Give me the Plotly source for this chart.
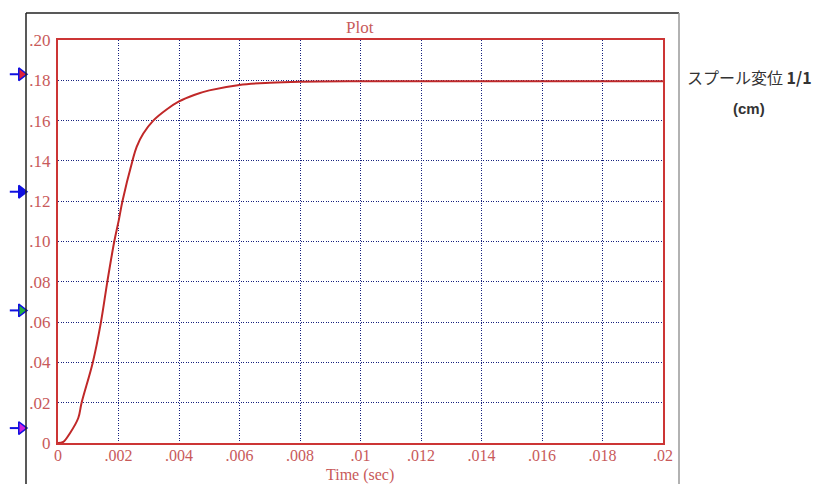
import plotly.graph_objects as go

# Data
time_s = [0, 0.000175, 0.0004, 0.00067, 0.00078, 0.00115, 0.00142, 0.00163, 0.00186,
          0.00201, 0.00213, 0.00246, 0.0026, 0.00282, 0.00315, 0.00359, 0.0040, 0.0045,
          0.0050, 0.0060, 0.0070, 0.0080, 0.010, 0.015, 0.020]
spool_cm = [0, 0.0006, 0.005, 0.0124, 0.020, 0.040, 0.060, 0.080, 0.100,
            0.1106, 0.120, 0.140, 0.147, 0.1536, 0.160, 0.1655, 0.1695, 0.1727,
            0.1750, 0.1777, 0.1788, 0.1793, 0.1795, 0.1795, 0.1795]

x_ticks = [0, 0.002, 0.004, 0.006, 0.008, 0.010, 0.012, 0.014, 0.016, 0.018, 0.020]
x_labels = ["0", ".002", ".004", ".006", ".008", ".01", ".012", ".014", ".016", ".018", ".02"]
y_ticks = [0, 0.02, 0.04, 0.06, 0.08, 0.10, 0.12, 0.14, 0.16, 0.18, 0.20]
y_labels = ["0", ".02", ".04", ".06", ".08", ".10", ".12", ".14", ".16", ".18", ".20"]

# Channel markers on the left edge
marker_levels = [0.183, 0.1247, 0.0658, 0.0074]
marker_fills = ["#e0203a", "#1010e0", "#20b040", "#d020e0"]

RED = "#cc3535"
LABEL = "#c85a5a"
GRID = "#15207f"
SERIF = "Liberation Serif, Times New Roman, serif"

PAPER_W = 663.0  # 814 - right margin
PAPER_H = 403.0

def px_x(p):
    return p / PAPER_W

def px_y(p):
    return (443 - p) / PAPER_H

fig = go.Figure()
fig.add_trace(go.Scatter(x=time_s, y=spool_cm, mode="lines",
                         line=dict(color="#c02828", width=2, shape="spline", smoothing=1.0),
                         showlegend=False, hoverinfo="skip"))
# marker strip (second, invisible subplot in the left margin, x in pixels)
fig.add_trace(go.Scatter(x=[14] * len(marker_levels), y=marker_levels, mode="markers",
                         xaxis="x2", yaxis="y2",
                         marker=dict(symbol="line-ew", size=6, line=dict(color="#1010e0", width=2)),
                         cliponaxis=False, showlegend=False, hoverinfo="skip"))
fig.add_trace(go.Scatter(x=[21.5] * len(marker_levels), y=marker_levels, mode="markers",
                         xaxis="x2", yaxis="y2",
                         marker=dict(symbol="triangle-right", size=11, color=marker_fills,
                                     line=dict(color="#1010e0", width=1.5)),
                         cliponaxis=False, showlegend=False, hoverinfo="skip"))

axis_common = dict(showline=True, linecolor=RED, linewidth=2, mirror=True,
                   showgrid=True, gridcolor=GRID, gridwidth=1, griddash="1px,1.5px",
                   zeroline=False, ticks="", automargin=False)

fig.update_layout(
    xaxis=dict(domain=[58 / PAPER_W, 1], range=[0, 0.02], tickvals=x_ticks, ticktext=x_labels,
               ticklabelstandoff=-3, tickfont=dict(family=SERIF, size=16, color=LABEL),
               **axis_common),
    yaxis=dict(domain=[0, 1], range=[0, 0.20], tickvals=y_ticks, ticktext=y_labels,
               ticklabelstandoff=2, tickfont=dict(family=SERIF, size=17, color=LABEL),
               **axis_common),
    xaxis2=dict(domain=[0, 40 / PAPER_W], range=[0, 40], visible=False, anchor="y2"),
    yaxis2=dict(domain=[0, 1], range=[0, 0.20], visible=False, anchor="x2"),
)

# outer frame
fig.add_shape(type="line", xref="paper", yref="paper", x0=px_x(26), x1=px_x(679), y0=px_y(13), y1=px_y(13),
              line=dict(color="#222222", width=1.5))
fig.add_shape(type="line", xref="paper", yref="paper", x0=px_x(26), x1=px_x(26), y0=px_y(13), y1=px_y(490),
              line=dict(color="#222222", width=1.5))
fig.add_shape(type="line", xref="paper", yref="paper", x0=px_x(679), x1=px_x(679), y0=px_y(13), y1=px_y(490),
              line=dict(color="#999999", width=1.5))

fig.add_annotation(text="Plot", xref="paper", yref="paper", x=px_x(360), y=px_y(27), showarrow=False,
                   font=dict(family=SERIF, size=17, color=LABEL), xanchor="center", yanchor="middle")
fig.add_annotation(text="Time (sec)", xref="paper", yref="paper", x=px_x(360), y=px_y(475), showarrow=False,
                   font=dict(family=SERIF, size=16, color=LABEL), xanchor="center", yanchor="middle")
fig.add_annotation(text="スプール変位 <b>1/1</b>", xref="paper", yref="paper", x=px_x(685), y=px_y(77),
                   showarrow=False, xanchor="left", yanchor="middle",
                   font=dict(family="Noto Sans CJK JP, Arial, sans-serif", size=16, color="#333333"))
fig.add_annotation(text="<b>(cm)</b>", xref="paper", yref="paper", x=px_x(749), y=px_y(108),
                   showarrow=False, xanchor="center", yanchor="middle",
                   font=dict(family="Liberation Sans, Arial, sans-serif", size=15, color="#333333"))

fig.update_layout(width=814, height=484, margin=dict(l=0, r=151, t=40, b=41),
                  plot_bgcolor="white", paper_bgcolor="white")

fig.write_html("out.html")
